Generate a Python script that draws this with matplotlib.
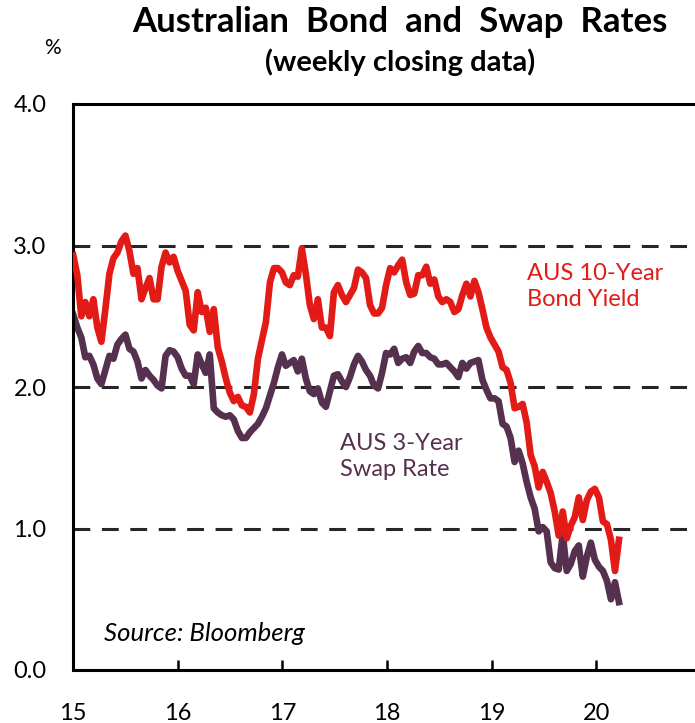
import matplotlib.pyplot as plt
import pandas as pd

# fortnightly closes, Jan 2015 - Mar 2020
dates = pd.date_range('2015-01-02', periods=137, freq='14D')

bond_10y = [
    2.93, 2.79, 2.50, 2.60, 2.50, 2.62, 2.42, 2.32, 2.55, 2.80,
    2.91, 2.95, 3.03, 3.07, 2.96, 2.80, 2.84, 2.62, 2.70, 2.77,
    2.62, 2.62, 2.85, 2.95, 2.88, 2.92, 2.82, 2.75, 2.68, 2.44,
    2.40, 2.67, 2.53, 2.56, 2.39, 2.55, 2.28, 2.18, 2.06, 1.96,
    1.90, 1.93, 1.87, 1.86, 1.82, 1.95, 2.20, 2.33, 2.46, 2.74,
    2.84, 2.84, 2.81, 2.74, 2.72, 2.79, 2.78, 2.98, 2.80, 2.58,
    2.48, 2.62, 2.42, 2.42, 2.36, 2.67, 2.72, 2.65, 2.60, 2.65,
    2.70, 2.83, 2.81, 2.77, 2.58, 2.52, 2.52, 2.56, 2.72, 2.84,
    2.81, 2.86, 2.90, 2.74, 2.65, 2.66, 2.79, 2.79, 2.85, 2.73,
    2.76, 2.64, 2.60, 2.62, 2.60, 2.53, 2.55, 2.65, 2.73, 2.64,
    2.75, 2.67, 2.55, 2.42, 2.35, 2.30, 2.25, 2.14, 2.12, 2.03,
    1.85, 1.86, 1.88, 1.75, 1.52, 1.44, 1.29, 1.40, 1.33, 1.25,
    1.12, 0.95, 1.12, 0.93, 1.02, 1.08, 1.22, 1.06, 1.20, 1.26,
    1.28, 1.22, 1.05, 1.03, 0.92, 0.70, 0.92,
]

swap_3y = [
    2.51, 2.42, 2.35, 2.21, 2.22, 2.16, 2.06, 2.02, 2.12, 2.22,
    2.20, 2.30, 2.34, 2.37, 2.27, 2.25, 2.18, 2.06, 2.12, 2.08,
    2.05, 2.01, 1.99, 2.22, 2.26, 2.25, 2.21, 2.13, 2.08, 2.08,
    2.02, 2.23, 2.16, 2.10, 2.23, 1.85, 1.82, 1.80, 1.79, 1.80,
    1.77, 1.69, 1.64, 1.64, 1.68, 1.71, 1.74, 1.79, 1.85, 1.94,
    2.03, 2.14, 2.23, 2.15, 2.17, 2.19, 2.11, 2.20, 2.06, 1.97,
    1.95, 1.99, 1.89, 1.86, 1.97, 2.08, 2.09, 2.04, 2.00, 2.07,
    2.16, 2.22, 2.18, 2.12, 2.08, 2.01, 1.99, 2.10, 2.24, 2.23,
    2.27, 2.17, 2.20, 2.21, 2.17, 2.25, 2.29, 2.24, 2.24, 2.21,
    2.20, 2.16, 2.16, 2.17, 2.14, 2.11, 2.07, 2.17, 2.13, 2.17,
    2.18, 2.19, 2.05, 1.98, 1.92, 1.92, 1.90, 1.74, 1.72, 1.64,
    1.47, 1.55, 1.46, 1.33, 1.22, 1.14, 0.98, 1.01, 0.98, 0.76,
    0.72, 0.71, 0.96, 0.70, 0.75, 0.84, 0.88, 0.66, 0.80, 0.90,
    0.78, 0.73, 0.70, 0.63, 0.50, 0.62, 0.48,
]

year_ticks = [15, 16, 17, 18, 19, 20]
y_ticks = [0, 1, 2, 3, 4]

red = '#e31b17'
purple = '#55304f'

plt.rcParams['font.family'] = ['Lato', 'DejaVu Sans']

# dates -> fractional years on a 15..21 axis
xs = dates.year - 2000 + (dates.dayofyear - 1) / 365.25

fig = plt.figure(figsize=(6.95, 7.23), dpi=100)
ax = fig.add_axes([73 / 695, 53 / 723, 628 / 695, 566 / 723])

for lvl in [1, 2, 3]:
    ax.axhline(lvl, color='#262626', lw=2.2, ls=(0, (5.5, 3.8)), zorder=1)

ax.plot(xs, bond_10y, color=red, lw=4.8, solid_joinstyle='round', zorder=3)
ax.plot(xs, swap_3y, color=purple, lw=4.8, solid_joinstyle='round', zorder=2)

ax.set_xlim(15, 21)
ax.set_ylim(0, 4)
ax.set_xticks(year_ticks)
ax.set_xticklabels([str(y) for y in year_ticks])
ax.set_yticks(y_ticks)
ax.set_yticklabels([f'{v:.1f}' for v in y_ticks])
ax.tick_params(axis='x', direction='in', length=7, width=1.8, pad=24,
               labelsize=17, colors='black')
ax.tick_params(axis='y', length=0, pad=19, labelsize=17)
for s in ['left', 'bottom', 'top']:
    ax.spines[s].set_linewidth(2.2)
ax.spines['right'].set_visible(False)

ax.text(19.34, 2.71, 'AUS 10-Year\nBond Yield', color=red, fontsize=17,
        linespacing=1.3, va='center', ha='left')
ax.text(17.55, 1.51, 'AUS 3-Year\nSwap Rate', color=purple, fontsize=17,
        linespacing=1.3, va='center', ha='left')
ax.text(15.3, 0.26, 'Source: Bloomberg', fontsize=18.5, style='italic',
        va='center', ha='left')

fig.text(400 / 695, 1 - 22 / 723, 'Australian  Bond  and  Swap  Rates',
         ha='center', va='center', fontsize=25, fontweight='bold')
fig.text(400 / 695, 1 - 62 / 723, '(weekly closing data)',
         ha='center', va='center', fontsize=21, fontweight='bold')
fig.text(52 / 695, 1 - 48 / 723, '%', ha='center', va='center', fontsize=15)

fig.savefig('out.png', dpi=100)
